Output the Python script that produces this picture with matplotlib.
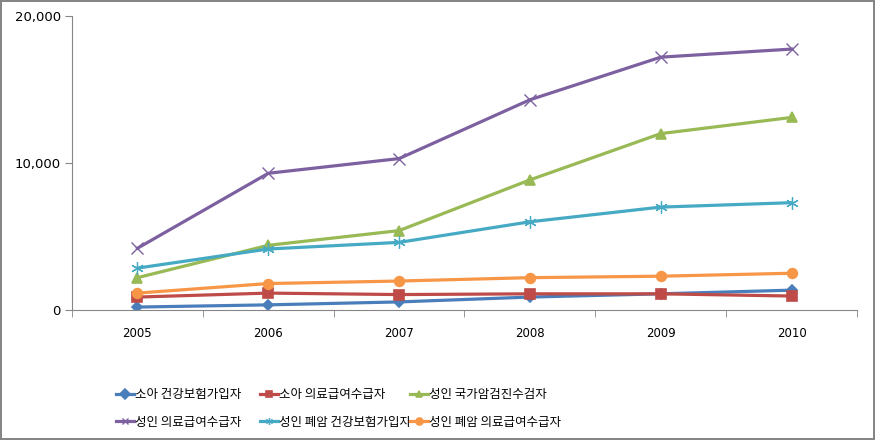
import matplotlib
matplotlib.use('Agg')
import matplotlib.pyplot as plt
import numpy as np

years = ['2005', '2006', '2007', '2008', '2009', '2010']
labels = ['소아 건강보험가입자', '소아 의료급여수급자', '성인 국가암검진수검자',
          '성인 의료급여수급자', '성인 폐암 건강보험가입자', '성인 폐암 의료급여수급자']

child_insured = [200, 350, 550, 880, 1100, 1350]
child_aid = [880, 1150, 1050, 1100, 1100, 950]
adult_screen = [2200, 4400, 5400, 8850, 12000, 13100]
adult_aid = [4200, 9300, 10300, 14300, 17200, 17750]
lung_insured = [2850, 4150, 4600, 6000, 7000, 7300]
lung_aid = [1150, 1800, 1970, 2200, 2300, 2500]

series = [child_insured, child_aid, adult_screen, adult_aid, lung_insured, lung_aid]
colors = ['#4A7EBB', '#BE4B48', '#98B954', '#7D60A0', '#46AAC5', '#F79646']
markers = ['D', 's', '^', 'x', (6, 2, 0), 'o']
msizes = [5, 7, 7, 8, 9, 7]
mew = [1.2, 1.2, 1.2, 1.0, 0.9, 1.2]

fig = plt.figure(figsize=(8.75, 4.4), dpi=100, linewidth=1.5, edgecolor='#868686')
ax = fig.add_axes([72/875, 1-310/440, (857-72)/875, (310-16)/440])

x = np.arange(len(years))
handles = []
for vals, c, m, ms, ew, lab in zip(series, colors, markers, msizes, mew, labels):
    h, = ax.plot(x, vals, color=c, marker=m, markersize=ms, linewidth=2.3,
                 markeredgecolor=c, markeredgewidth=ew, label=lab)
    handles.append(h)

ax.set_xlim(-0.5, len(years) - 0.5)
ax.set_ylim(0, 20000)
ax.set_xticks(x)
ax.set_xticklabels(years)
ax.set_xticks(np.arange(-0.5, len(years)), minor=True)
ax.tick_params(axis='x', which='major', length=0, pad=12, labelsize=8.5)
ax.tick_params(axis='x', which='minor', length=5, color='#868686', direction='out')
ax.set_yticks([0, 10000, 20000])
ax.set_yticklabels(['0', '10,000', '20,000'])
ax.tick_params(axis='y', length=5, color='#868686', labelsize=9.5, pad=3)
for s in ['top', 'right']:
    ax.spines[s].set_visible(False)
for s in ['left', 'bottom']:
    ax.spines[s].set_color('#868686')

# legend: three columns of two entries each
col_x = [110, 254, 404]
for i, cx in enumerate(col_x):
    leg = fig.legend([handles[i], handles[i + 3]], [labels[i], labels[i + 3]],
                     loc='upper left', bbox_to_anchor=(cx/875, 1-382/440),
                     frameon=False, handlelength=1.4, handletextpad=0.12,
                     labelspacing=1.15, borderpad=0,
                     prop={'family': ['Noto Sans CJK KR', 'DejaVu Sans'], 'size': 9})
    for lh in leg.legend_handles:
        lh.set_markersize(5)

fig.savefig('out.png', dpi=100, edgecolor=fig.get_edgecolor())
